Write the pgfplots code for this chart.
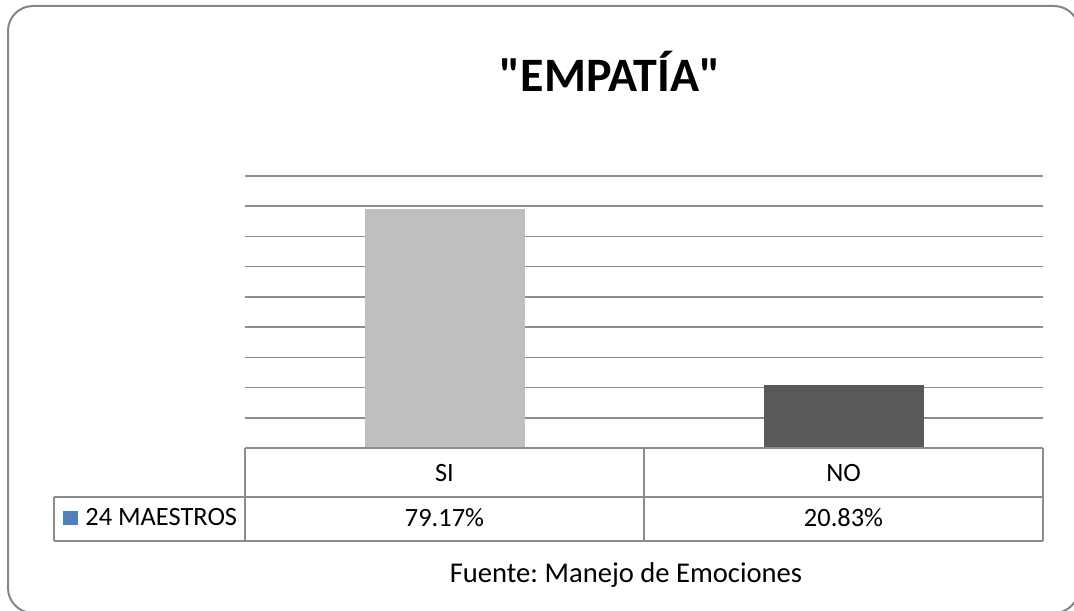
\documentclass[border=0pt]{standalone}
\usepackage{pgfplots}
\pgfplotsset{compat=1.18}
\usepackage{fontspec}
\setmainfont{Carlito}
\newfontfamily\titlefont{Carlito}
\frenchspacing
\definecolor{barSI}{HTML}{BFBFBF}
\definecolor{barNO}{HTML}{595959}
\definecolor{keyblue}{HTML}{4F81BD}
\definecolor{gridc}{HTML}{8C8C8C}
\definecolor{borderc}{HTML}{868686}
\begin{document}
\begin{tikzpicture}
\path[use as bounding box] (0pt,0pt) rectangle (537pt,305pt);
\begin{scope}
\clip (0pt,0pt) rectangle (537pt,305pt);
\draw[borderc, line width=1pt, rounded corners=12.5pt] (4pt,302pt) rectangle (539.5pt,-1.5pt);
\end{scope}
\node[anchor=base, font=\titlefont\fontsize{24}{28}\selectfont\bfseries] at (305pt,259pt) {"EMPATÍA"};
\begin{axis}[
  at={(122.5pt,81pt)}, anchor=south west,
  scale only axis, width=399pt, height=136pt,
  xmin=-0.5, xmax=1.5, ymin=0, ymax=90,
  axis line style={draw=none},
  major tick length=0pt,
  xtick=\empty,
  ytick={10,20,30,40,50,60,70,80,90},
  yticklabels={},
  ymajorgrids,
  grid style={gridc, line width=0.75pt},
  ybar, bar width=80pt,
  clip=false,
]
\addplot[fill=barSI, draw=none, bar shift=0pt] coordinates {(0,79.17)};
\addplot[fill=barNO, draw=none, bar shift=0pt] coordinates {(1,20.83)};
\end{axis}
\begin{scope}[gridc, line width=0.75pt]
\draw (122.5pt,81pt) -- (521.5pt,81pt);
\draw (27pt,56.5pt) -- (521.5pt,56.5pt);
\draw (27pt,34.5pt) -- (521.5pt,34.5pt);
\draw (27pt,34.5pt) -- (27pt,56.5pt);
\draw (122.5pt,34.5pt) -- (122.5pt,81pt);
\draw (322pt,34.5pt) -- (322pt,81pt);
\draw (521.5pt,34.5pt) -- (521.5pt,81pt);
\end{scope}
\begin{scope}[font=\fontsize{13.2}{15}\selectfont]
\node[anchor=base] at (222.25pt,64.5pt) {SI};
\node[anchor=base] at (421.75pt,64.5pt) {NO};
\node[anchor=base] at (222.25pt,42pt) {79.17\%};
\node[anchor=base] at (421.75pt,42pt) {20.83\%};
\fill[keyblue] (31.5pt,42.5pt) rectangle (39pt,49.5pt);
\node[anchor=base west, inner sep=0pt] at (42.5pt,42.5pt) {24 MAESTROS};
\end{scope}
\node[anchor=base, font=\fontsize{14.3}{16}\selectfont] at (313pt,14pt) {Fuente: Manejo de Emociones};
\end{tikzpicture}
\end{document}
